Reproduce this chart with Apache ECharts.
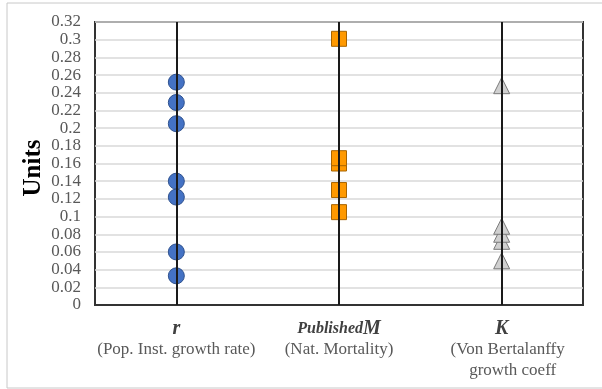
<!DOCTYPE html>
<html>
<head>
<meta charset="utf-8">
<script src="https://cdn.jsdelivr.net/npm/echarts@6/dist/echarts.min.js"></script>
<style>
	html, body { margin: 0; padding: 0; background: #fff; }
	#chart { width: 602px; height: 389px; }
</style>
</head>
<body>
<div id="chart"></div>
<script>
// categories on the x axis
const categories = ['r', 'M', 'K'];
// r (Pop. Inst. growth rate)
const rValues = [0.252, 0.229, 0.205, 0.140, 0.122, 0.060, 0.033];
// Published M (Nat. Mortality) - 0.16 listed before 0.166 so the upper one draws on top
const mValues = [0.301, 0.160, 0.166, 0.130, 0.105];
// K (Von Bertalanffy growth coeff)
const kValues = [0.248, 0.072, 0.080, 0.089, 0.050];

const serif = 'Liberation Serif';

const chart = echarts.init(document.getElementById('chart'));

const makeSeries = (cat, values, symbol, color, border, size) => ({
	type: 'scatter',
	symbol: symbol,
	symbolSize: size,
	itemStyle: {
		color: color,
		borderColor: border,
		borderWidth: 1,
		opacity: 1
	},
	data: values.map(v => [cat, v]),
	markLine: {
		silent: true,
		symbol: 'none',
		label: { show: false },
		lineStyle: { color: '#1a1a1a', width: 2, type: 'solid', opacity: 1 },
		data: [{ xAxis: cat }]
	},
	z: 3
});

chart.setOption({
	backgroundColor: '#fff',
	animation: false,
	graphic: [{
		type: 'rect',
		shape: { x: 7, y: 3, width: 610, height: 385 },
		style: { fill: 'none', stroke: '#c8c8c8', lineWidth: 1 },
		silent: true
	}, {
		// y axis title
		type: 'text',
		x: 34,
		y: 168,
		rotation: Math.PI / 2,
		style: {
			text: 'Units',
			fontFamily: serif,
			fontWeight: 'bold',
			fontSize: 25,
			fill: '#000',
			align: 'center',
			verticalAlign: 'middle'
		},
		silent: true
	}],
	grid: {
		left: 95,
		right: 19,
		top: 22,
		bottom: 84,
		show: true,
		borderColor: '#333',
		borderWidth: 2
	},
	xAxis: {
		type: 'category',
		data: categories,
		boundaryGap: true,
		axisLine: { show: true, lineStyle: { color: '#333', width: 2 } },
		axisTick: { show: false },
		splitLine: { show: false },
		axisLabel: {
			margin: 13,
			interval: 0,
			formatter: function (value) {
				if (value === 'r') return '{b|r}\n{n|(Pop. Inst. growth rate)}';
				if (value === 'M') return '{p|Published}{b|M}\n{n|(Nat. Mortality)}';
				return '{b|K}\n{k1|(Von Bertalanffy}\n{k2|growth coeff}';
			},
			rich: {
				b: { fontFamily: serif, fontStyle: 'italic', fontWeight: 'bold', fontSize: 20, color: '#404040', lineHeight: 21 },
				p: { fontFamily: serif, fontStyle: 'italic', fontWeight: 'bold', fontSize: 16, color: '#404040', lineHeight: 21 },
				n: { fontFamily: serif, fontSize: 17, color: '#595959', lineHeight: 21 },
				k1: { fontFamily: serif, fontSize: 17, color: '#595959', lineHeight: 21, padding: [0, 0, 0, 12] },
				k2: { fontFamily: serif, fontSize: 17, color: '#595959', lineHeight: 21, padding: [0, 0, 0, 22] }
			}
		}
	},
	yAxis: {
		type: 'value',
		min: 0,
		max: 0.32,
		interval: 0.02,
		axisLine: { show: false },
		axisTick: { show: false },
		axisLabel: {
			margin: 14,
			fontFamily: serif,
			fontSize: 17,
			color: '#595959',
			formatter: v => String(+v.toFixed(2))
		},
		splitLine: { show: true, lineStyle: { color: '#d9d9d9', width: 1.5 } }
	},
	series: [
		makeSeries('r', rValues, 'circle', '#4472c4', '#2f528f', 16),
		makeSeries('M', mValues, 'rect', '#ff9900', '#a86400', 15),
		makeSeries('K', kValues, 'triangle', '#d0d0d0', '#7a7a7a', 16)
	]
});
</script>
</body>
</html>
